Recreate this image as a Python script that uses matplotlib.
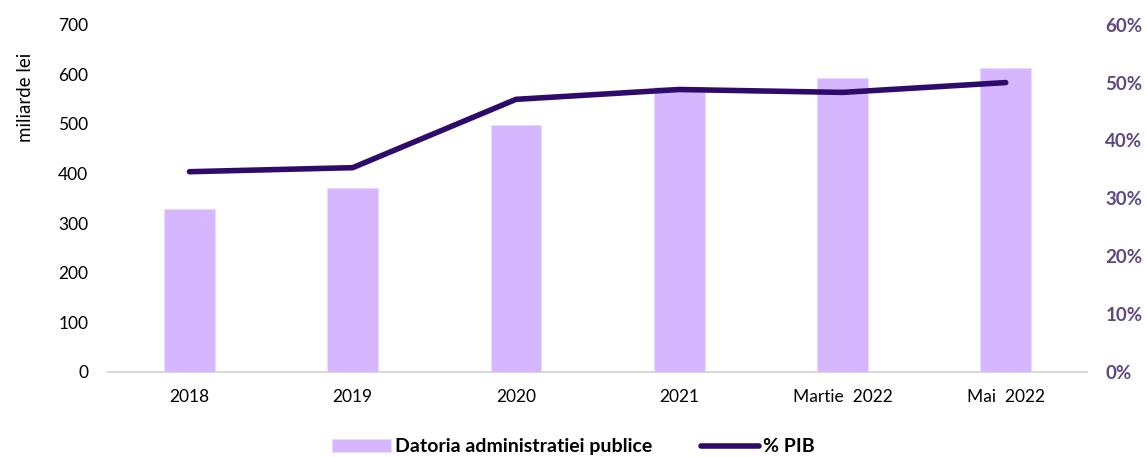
import matplotlib.pyplot as plt
from matplotlib.ticker import FuncFormatter

plt.rcParams['font.family'] = ['Lato', 'DejaVu Sans']

categories = ['2018', '2019', '2020', '2021', 'Martie  2022', 'Mai  2022']
debt = [329, 371, 498, 575, 593, 613]          # miliarde lei
pct_gdp = [34.6, 35.3, 47.1, 48.8, 48.3, 50.0]  # % PIB

bar_color = '#d5b6ff'
line_color = '#2e0a6b'
right_color = '#5e4785'

fig = plt.figure(figsize=(11.47, 4.57), dpi=100)
ax = fig.add_axes([0.094, 0.186, 0.854, 0.76])
ax2 = ax.twinx()

x = range(len(categories))
bars = ax.bar(x, debt, width=0.31, color=bar_color, edgecolor='#e8dcff', linewidth=0.6,
              label='Datoria administratiei publice', zorder=2)
line, = ax2.plot(x, pct_gdp, color=line_color, linewidth=4, solid_capstyle='round',
                 label='% PIB', zorder=3)

ax.set_xlim(-0.5, len(categories) - 0.5)
ax.set_ylim(0, 700)
ax.set_yticks(range(0, 701, 100))
ax2.set_ylim(0, 60)
ax2.set_yticks(range(0, 61, 10))
ax2.yaxis.set_major_formatter(FuncFormatter(lambda v, _: f'{v:.0f}%'))

ax.set_xticks(list(x))
ax.set_xticklabels(categories)
ax.set_ylabel('miliarde lei', fontsize=13.5, labelpad=16)
ax.yaxis.set_label_coords(-0.075, 0.79)

for a in (ax, ax2):
    for side in ('top', 'left', 'right', 'bottom'):
        a.spines[side].set_visible(False)
ax.axhline(0, color='#d9d9d9', linewidth=1.5, zorder=1, clip_on=False)

ax.tick_params(axis='both', length=0, labelsize=12.5, colors='black')
ax.tick_params(axis='x', pad=12)
ax.tick_params(axis='y', pad=14)
ax2.tick_params(axis='y', length=0, labelsize=13.5, pad=13, labelcolor=right_color)
for lbl in ax2.get_yticklabels():
    lbl.set_fontweight('bold')

fig.legend([bars, line], ['Datoria administratiei publice', '% PIB'],
           loc='lower center', bbox_to_anchor=(0.5, -0.035), ncol=2, frameon=False,
           prop={'weight': 'bold', 'size': 14}, handlelength=3, columnspacing=2.5,
           handletextpad=0.2)

fig.savefig('out.png', dpi=100)
